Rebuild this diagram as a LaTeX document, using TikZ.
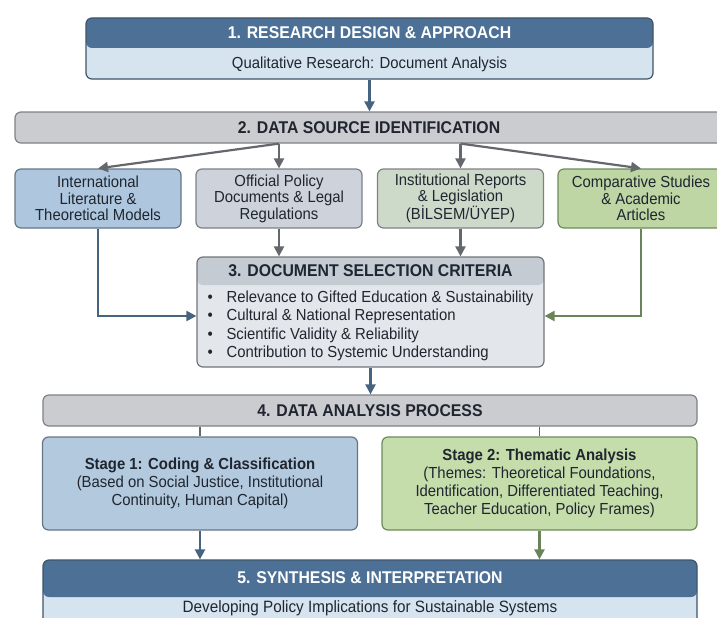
\documentclass[tikz,border=0pt]{standalone}
\usepackage{fontspec}
\setmainfont{Liberation Sans}[FakeStretch=0.93]
\usetikzlibrary{arrows.meta}
\definecolor{hdrblue}{HTML}{4D7196}
\definecolor{paleblue}{HTML}{D6E4EF}
\definecolor{edgeblue}{HTML}{3E5469}
\definecolor{boxgray}{HTML}{CBCCCF}
\definecolor{edgegray}{HTML}{7E8186}
\definecolor{srcblue}{HTML}{AFC7DE}
\definecolor{srcgray}{HTML}{CDD2DB}
\definecolor{srcsage}{HTML}{CDDACA}
\definecolor{srcgreen}{HTML}{BDD6A3}
\definecolor{edgegreen}{HTML}{6F8A5D}
\definecolor{hdrgray}{HTML}{C5CBD3}
\definecolor{palegray}{HTML}{E3E6EA}
\definecolor{stageblue}{HTML}{B3C9DE}
\definecolor{stagegreen}{HTML}{C5DCAB}
\definecolor{lineblue}{HTML}{46637F}
\definecolor{linegray}{HTML}{64686D}
\definecolor{linegreen}{HTML}{6A845A}
\definecolor{inkdark}{HTML}{1F2630}
\newcommand{\critem}[1]{\makebox[19pt][l]{\textbullet}#1}
\begin{document}
\begin{tikzpicture}[x=1pt,y=-1pt,
	boxbase/.style={rounded corners=6pt,line width=1.2pt,inner sep=0pt,align=center,text=inkdark},
	hdr/.style 2 args={path picture={\fill[#1] (path picture bounding box.north west) rectangle ([yshift=-#2]path picture bounding box.north east);}},
	headtext/.style={font=\fontsize{17}{19}\selectfont\bfseries,text=inkdark},
	bodytext/.style={font=\fontsize{16}{18}\selectfont,text=inkdark,align=center},
	srcbox/.style={boxbase,minimum width=166pt,minimum height=59pt,font=\fontsize{16}{16.5}\selectfont},
	stagebox/.style={boxbase,minimum width=315pt,minimum height=93pt,font=\fontsize{16}{18}\selectfont},
	flow/.style={line width=2.2pt,-{Triangle[length=10pt,width=10pt]}}]
			\useasboundingbox (0,0) rectangle (717,618);
			\clip (0,0) rectangle (717,618);
			\node[boxbase,draw=edgeblue,fill=paleblue,hdr={hdrblue}{30pt},minimum width=567pt,minimum height=61pt] (design) at (369.5,48.5) {};
			\node[headtext,text=white] (designT) at (369.5,33) {1. RESEARCH DESIGN \& APPROACH};
			\node[bodytext] (designS) at (369.5,64) {Qualitative Research: Document Analysis};
			\node[boxbase,draw=edgegray,fill=boxgray,minimum width=708pt,minimum height=31pt,headtext] (datasrc) at (369,127.5) {2. DATA SOURCE IDENTIFICATION};
			\node[srcbox,draw=edgeblue!80,fill=srcblue] (lit) at (98,198.5) {International\\Literature \&\\Theoretical Models};
			\node[srcbox,draw=edgegray,fill=srcgray] (policy) at (279,198.5) {Official Policy\\Documents \& Legal\\Regulations};
			\node[srcbox,draw=edgegray,fill=srcsage] (reports) at (460.5,198.5) {Institutional Reports\\\& Legislation\\(BİLSEM/ÜYEP)};
			\node[srcbox,draw=edgegreen,fill=srcgreen] (studies) at (641,198.5) {Comparative Studies\\\& Academic\\Articles};
			\node[boxbase,draw=edgegray!90!black,fill=palegray,hdr={hdrgray}{28pt},minimum width=347pt,minimum height=110pt] (criteria) at (370.5,312) {};
			\node[headtext] (criteriaT) at (370.5,271) {3. DOCUMENT SELECTION CRITERIA};
			\node[bodytext,align=left,anchor=west,font=\fontsize{16}{18.3}\selectfont] (criteriaL) at (204,326) {\critem{Relevance to Gifted Education \& Sustainability}\\\critem{Cultural \& National Representation}\\\critem{Scientific Validity \& Reliability}\\\critem{Contribution to Systemic Understanding}};
			\node[boxbase,draw=edgegray,fill=boxgray,minimum width=654pt,minimum height=31pt,headtext] (analysis) at (370,410.5) {4. DATA ANALYSIS PROCESS};
			\node[stagebox,draw=edgeblue!80,fill=stageblue] (stage1) at (200,483.5) {\textbf{Stage 1: Coding \& Classification}\\(Based on Social Justice, Institutional\\Continuity, Human Capital)};
			\node[stagebox,draw=edgegreen,fill=stagegreen] (stage2) at (539.5,483.5) {\textbf{Stage 2: Thematic Analysis}\\(Themes: Theoretical Foundations,\\Identification, Differentiated Teaching,\\Teacher Education, Policy Frames)};
			\node[boxbase,draw=edgeblue,fill=paleblue,hdr={hdrblue}{37pt},minimum width=654pt,minimum height=66pt] (synth) at (370,593) {};
			\node[headtext,text=white] (synthT) at (370,578) {5. SYNTHESIS \& INTERPRETATION};
			\node[bodytext,font=\fontsize{16.4}{18}\selectfont] (synthS) at (370,608) {Developing Policy Implications for Sustainable Systems};
			\draw[flow,lineblue] (design.south) -- (design.south |- datasrc.north);
			\draw[flow,linegray] (datasrc.south -| policy.north) -- (lit.north);
			\draw[flow,linegray] (datasrc.south -| policy.north) -- (policy.north);
			\draw[flow,linegray] (datasrc.south -| reports.north) -- (reports.north);
			\draw[flow,linegray] (datasrc.south -| reports.north) -- (studies.north);
			\draw[flow,linegray] (policy.south) -- (policy.south |- criteria.north);
			\draw[flow,linegray] (reports.south) -- (reports.south |- criteria.north);
			\draw[flow,lineblue] (lit.south) |- ([yshift=-4pt]criteria.west);
			\draw[flow,linegreen] (studies.south) |- ([yshift=-4pt]criteria.east);
			\draw[flow,lineblue] (criteria.south) -- (criteria.south |- analysis.north);
			\draw[linegray,line width=1.4pt] (stage1.north |- analysis.south) -- (stage1.north);
			\draw[linegray,line width=1.4pt] (stage2.north |- analysis.south) -- (stage2.north);
			\draw[flow,lineblue] (stage1.south) -- (stage1.south |- synth.north);
			\draw[flow,linegreen] (stage2.south) -- (stage2.south |- synth.north);
		\end{tikzpicture}
\end{document}
